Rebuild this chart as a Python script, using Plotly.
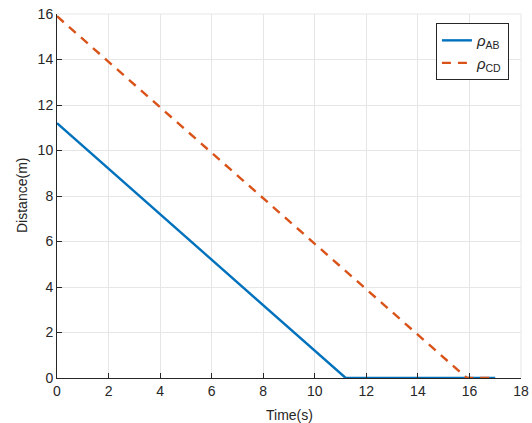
import plotly.graph_objects as go

# Distance between node pairs over time
time_ab = [0, 11.2, 17]
dist_ab = [11.2, 0, 0]
time_cd = [0, 15.9, 17]
dist_cd = [15.9, 0, 0]

x_ticks = [0, 2, 4, 6, 8, 10, 12, 14, 16, 18]
y_ticks = [0, 2, 4, 6, 8, 10, 12, 14, 16]

BLUE = "#0072BD"
ORANGE = "#D95319"
AXIS = "#262626"
GRID = "#e6e6e6"
FONT = "Liberation Sans, Arial, sans-serif"

fig = go.Figure()
fig.add_trace(go.Scatter(
    x=time_ab, y=dist_ab, mode="lines", name="<i>ρ</i><sub>AB</sub>",
    line=dict(color=BLUE, width=2.4),
))
fig.add_trace(go.Scatter(
    x=time_cd, y=dist_cd, mode="lines", name="<i>ρ</i><sub>CD</sub>",
    line=dict(color=ORANGE, width=2.4, dash="9px,7px"),
))

axis_common = dict(
    showline=True, linecolor=AXIS, linewidth=1, mirror=False,
    ticks="inside", ticklen=5, tickwidth=1, tickcolor=AXIS,
    showgrid=True, gridcolor=GRID, gridwidth=1, zeroline=False,
    tickfont=dict(family=FONT, size=14, color=AXIS),
    automargin=False,
)

fig.update_xaxes(range=[0, 18], tickvals=x_ticks,
                 ticktext=[str(v) for v in x_ticks], **axis_common)
fig.update_yaxes(range=[0, 16], tickvals=y_ticks,
                 ticktext=[str(v) for v in y_ticks], **axis_common)

# axis titles
fig.add_annotation(text="Time(s)", xref="paper", yref="paper", x=0.5, y=0,
                   yshift=-37, xanchor="center", yanchor="middle", showarrow=False,
                   font=dict(family=FONT, size=14, color=AXIS))
fig.add_annotation(text="Distance(m)", xref="paper", yref="paper", x=0, y=0.5,
                   xshift=-35, xanchor="center", yanchor="middle", textangle=-90,
                   showarrow=False, font=dict(family=FONT, size=14, color=AXIS))

# light outline along the top and right of the plotting area
fig.add_shape(type="line", xref="paper", yref="paper", x0=0, x1=1, y0=1, y1=1,
              line=dict(color=GRID, width=1), layer="below")
fig.add_shape(type="line", xref="paper", yref="paper", x0=1, x1=1, y0=0, y1=1,
              line=dict(color=GRID, width=1), layer="below")

fig.update_layout(
    width=532, height=423,
    margin=dict(l=57, r=11, t=14, b=45),
    paper_bgcolor="white", plot_bgcolor="white",
    font=dict(family=FONT, size=14, color=AXIS),
    showlegend=True,
    legend=dict(
        x=0.974, y=0.975, xanchor="right", yanchor="top",
        bgcolor="white", bordercolor=AXIS, borderwidth=1,
        font=dict(family=FONT, size=15, color=AXIS),
        tracegroupgap=0,
    ),
)

fig.write_html("out.html")
